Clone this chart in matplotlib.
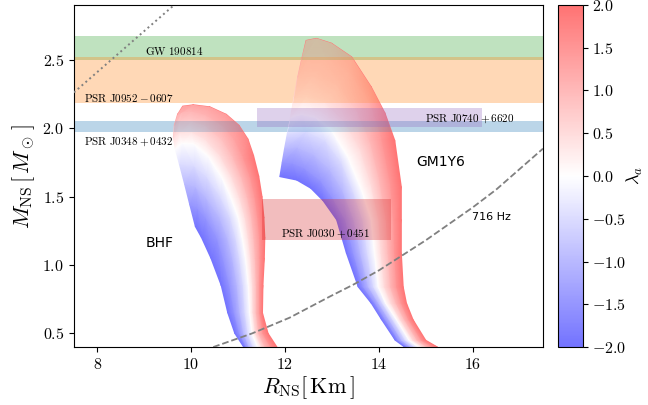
import numpy as np
import matplotlib
matplotlib.use("Agg")
import matplotlib.pyplot as plt
import matplotlib.tri as mtri
from matplotlib.colors import ListedColormap, Normalize
from matplotlib.cm import ScalarMappable
from matplotlib.patches import Polygon

plt.rcParams["font.family"] = "serif"
plt.rcParams["font.serif"] = ["cmr10"]
plt.rcParams["mathtext.fontset"] = "cm"
plt.rcParams["axes.formatter.use_mathtext"] = True

# lambda_a values of the drawn curves
lambdas = [-2.0, -1.5, -1.0, -0.5, 0.0, 0.5, 1.0, 1.5, 2.0]

# BHF mass-radius curves (R in km, M in Msun)
bhf_R = [
    [11.12, 10.93, 10.78, 10.64, 10.42, 10.22, 10.09],
    [11.18, 11.03, 10.92, 10.82, 10.68, 10.55, 10.30, 10.12, 9.97],
    [11.24, 11.12, 11.04, 10.98, 10.88, 10.77, 10.60, 10.30, 10.08, 9.86],
    [11.32, 11.21, 11.15, 11.11, 11.03, 10.95, 10.83, 10.62, 10.32, 10.05, 9.75],
    [11.42, 11.30, 11.25, 11.22, 11.16, 11.09, 11.00, 10.84, 10.64, 10.35, 10.05, 9.80, 9.66],
    [11.50, 11.37, 11.32, 11.31, 11.27, 11.22, 11.15, 11.03, 10.86, 10.62, 10.30, 10.00, 9.75, 9.62],
    [11.58, 11.44, 11.39, 11.39, 11.37, 11.34, 11.29, 11.20, 11.07, 10.88, 10.65, 10.30, 10.00, 9.75, 9.64],
    [11.70, 11.53, 11.46, 11.46, 11.47, 11.46, 11.42, 11.36, 11.26, 11.10, 10.92, 10.68, 10.30, 10.00, 9.80, 9.71],
    [11.83, 11.64, 11.52, 11.53, 11.56, 11.57, 11.55, 11.51, 11.44, 11.33, 11.21, 11.02, 10.75, 10.40, 10.05, 9.82],
]
bhf_M = [
    [0.40, 0.50, 0.65, 0.85, 1.05, 1.20, 1.28],
    [0.40, 0.50, 0.65, 0.85, 1.05, 1.20, 1.35, 1.42, 1.44],
    [0.40, 0.50, 0.65, 0.85, 1.05, 1.20, 1.35, 1.50, 1.575, 1.59],
    [0.40, 0.50, 0.65, 0.85, 1.05, 1.20, 1.35, 1.50, 1.65, 1.725, 1.735],
    [0.40, 0.50, 0.65, 0.85, 1.05, 1.20, 1.35, 1.50, 1.65, 1.80, 1.885, 1.89, 1.85],
    [0.40, 0.50, 0.65, 0.85, 1.05, 1.20, 1.35, 1.50, 1.65, 1.80, 1.92, 1.975, 1.97, 1.93],
    [0.40, 0.50, 0.65, 0.85, 1.05, 1.20, 1.35, 1.50, 1.65, 1.80, 1.92, 2.02, 2.055, 2.05, 2.02],
    [0.40, 0.50, 0.65, 0.85, 1.05, 1.20, 1.35, 1.50, 1.65, 1.80, 1.92, 2.02, 2.10, 2.125, 2.12, 2.10],
    [0.40, 0.50, 0.65, 0.85, 1.05, 1.20, 1.35, 1.50, 1.65, 1.80, 1.92, 2.02, 2.10, 2.155, 2.17, 2.16],
]

# GM1Y6 mass-radius curves
gm1_R = [
    [14.55, 14.35, 14.06, 13.84, 13.56, 13.31, 13.10, 12.81, 12.55, 12.25, 11.89],
    [14.62, 14.42, 14.14, 13.92, 13.67, 13.46, 13.29, 13.00, 12.75, 12.40, 12.15, 11.94],
    [14.69, 14.49, 14.22, 14.00, 13.78, 13.61, 13.47, 13.22, 12.95, 12.60, 12.25, 11.99],
    [14.77, 14.57, 14.30, 14.08, 13.89, 13.76, 13.66, 13.44, 13.20, 12.85, 12.45, 12.05],
    [14.85, 14.65, 14.38, 14.15, 13.99, 13.91, 13.84, 13.63, 13.34, 12.99, 12.64, 12.35, 12.12],
    [14.94, 14.73, 14.46, 14.26, 14.12, 14.05, 14.00, 13.83, 13.60, 13.25, 12.85, 12.45, 12.19],
    [15.03, 14.82, 14.55, 14.37, 14.25, 14.20, 14.16, 14.00, 13.82, 13.52, 13.10, 12.60, 12.27],
    [15.14, 14.91, 14.64, 14.48, 14.38, 14.34, 14.32, 14.25, 14.05, 13.80, 13.35, 12.85, 12.50, 12.36],
    [15.25, 15.00, 14.73, 14.59, 14.52, 14.48, 14.48, 14.48, 14.34, 14.13, 13.84, 13.42, 12.99, 12.67, 12.45],
]
gm1_M = [
    [0.40, 0.45, 0.60, 0.72, 0.84, 1.085, 1.33, 1.47, 1.56, 1.62, 1.645],
    [0.40, 0.45, 0.60, 0.72, 0.84, 1.085, 1.33, 1.50, 1.62, 1.71, 1.745, 1.75],
    [0.40, 0.45, 0.60, 0.72, 0.84, 1.085, 1.33, 1.55, 1.70, 1.81, 1.86, 1.85],
    [0.40, 0.45, 0.60, 0.72, 0.84, 1.085, 1.33, 1.55, 1.75, 1.91, 1.98, 1.96],
    [0.40, 0.45, 0.60, 0.72, 0.84, 1.085, 1.33, 1.55, 1.79, 1.985, 2.08, 2.10, 2.08],
    [0.40, 0.45, 0.60, 0.72, 0.84, 1.085, 1.33, 1.60, 1.85, 2.06, 2.19, 2.235, 2.22],
    [0.40, 0.45, 0.60, 0.72, 0.84, 1.085, 1.33, 1.65, 1.90, 2.14, 2.32, 2.385, 2.37],
    [0.40, 0.45, 0.60, 0.72, 0.84, 1.085, 1.33, 1.60, 1.95, 2.20, 2.42, 2.52, 2.525, 2.51],
    [0.40, 0.45, 0.60, 0.72, 0.84, 1.085, 1.33, 1.57, 1.91, 2.11, 2.30, 2.52, 2.62, 2.655, 2.64],
]

# 716 Hz mass-shedding line and Buchdahl line
spin_R = [10.47, 11.3, 12.1, 12.96, 13.45, 14.0, 14.5, 15.0, 15.5, 16.0, 16.5, 17.0, 17.5]
spin_M = [0.40, 0.50, 0.615, 0.77, 0.855, 0.96, 1.07, 1.18, 1.30, 1.42, 1.55, 1.70, 1.85]
buch_R = [7.5, 9.64]
buch_M = [2.26, 2.90]

# observational constraints
gw_M = [2.50, 2.67]
j0952_M = [2.18, 2.52]
j0348_M = [1.97, 2.05]
j0740_R = [11.41, 16.2]
j0740_M = [2.01, 2.15]
j0030_R = [11.52, 14.26]
j0030_M = [1.18, 1.48]

# pale bwr colormap (as if drawn with alpha on white)
base = plt.get_cmap("bwr")(np.linspace(0, 1, 256))
base[:, :3] = 1 - 0.55 * (1 - base[:, :3])
pale = ListedColormap(base)
norm = Normalize(-2, 2)


def arc_param(r, m):
    d = np.hypot(np.diff(r), 2.9 * np.diff(m))
    s = np.concatenate([[0], np.cumsum(d)])
    return s / s[-1]


def draw_family(ax, R_list, M_list, fade_from, fade_max):
    xs, ys, zs, offs = [], [], [], []
    for lam, r, m in zip(lambdas, R_list, M_list):
        offs.append(len(xs))
        xs += r
        ys += m
        zs += [lam] * len(r)
    tris = []
    for k in range(len(lambdas) - 1):
        oa, ob = offs[k], offs[k + 1]
        ta = arc_param(R_list[k], M_list[k])
        tb = arc_param(R_list[k + 1], M_list[k + 1])
        na, nb = len(ta), len(tb)
        i = j = 0
        while i < na - 1 or j < nb - 1:
            if j == nb - 1 or (i < na - 1 and ta[i + 1] <= tb[j + 1]):
                tris.append([oa + i, oa + i + 1, ob + j])
                i += 1
            else:
                tris.append([oa + i, ob + j + 1, ob + j])
                j += 1
    tri = mtri.Triangulation(xs, ys, tris)
    ax.tripcolor(tri, zs, shading="gouraud", cmap=pale, norm=norm, zorder=2)

    outline = list(zip(R_list[0], M_list[0]))
    outline += [(r[-1], m[-1]) for r, m in zip(R_list[1:-1], M_list[1:-1])]
    outline += list(zip(R_list[-1][::-1], M_list[-1][::-1]))
    clip = Polygon(outline, closed=True, transform=ax.transData)

    # curves spread apart near the top, so the fill looks paler there
    top = max(ys)
    mgrid = np.linspace(top, fade_from, 100)
    fade = np.ones((100, 2, 4))
    fade[:, :, 3] = (fade_max * (mgrid - fade_from) / (top - fade_from))[:, None]
    im = ax.imshow(fade, extent=(min(xs), max(xs), fade_from, top),
                   aspect="auto", interpolation="bilinear", zorder=2.2)
    im.set_clip_path(clip)

    # bands show through the curves
    for lo_hi, col in [(gw_M, "tab:green"), (j0952_M, "tab:orange"), (j0348_M, "tab:blue")]:
        span = ax.axhspan(*lo_hi, color=col, alpha=0.22, lw=0, zorder=2.5)
        span.set_clip_path(clip)


fig = plt.figure(figsize=(6.48, 4.05), dpi=100)
ax = fig.add_axes([0.114, 0.143, 0.724, 0.845])
cax = fig.add_axes([0.861, 0.143, 0.038, 0.845])

ax.axhspan(*gw_M, color="tab:green", alpha=0.3, lw=0, zorder=1)
ax.axhspan(*j0952_M, color="tab:orange", alpha=0.3, lw=0, zorder=1)
ax.axhspan(*j0348_M, color="tab:blue", alpha=0.3, lw=0, zorder=1)

draw_family(ax, bhf_R, bhf_M, 1.75, 0.35)
draw_family(ax, gm1_R, gm1_M, 1.9, 0.6)

ax.fill_between(j0740_R, j0740_M[0], j0740_M[1], color="tab:purple", alpha=0.3, lw=0, zorder=3)
ax.fill_between(j0030_R, j0030_M[0], j0030_M[1], color="tab:red", alpha=0.3, lw=0, zorder=3)

ax.plot(spin_R, spin_M, "--", color="gray", lw=1.3, zorder=4)
ax.plot(buch_R, buch_M, ":", color="gray", lw=1.4, zorder=4)

ax.text(9.02, 2.565, r"$\mathrm{GW\ 190814}$", fontsize=8, va="center", zorder=5)
ax.text(7.71, 2.22, r"$\mathrm{PSR\ J0952}-0607$", fontsize=8, va="center", zorder=5)
ax.text(7.71, 1.90, r"$\mathrm{PSR\ J0348}+0432$", fontsize=8, va="center", zorder=5)
ax.text(14.98, 2.07, r"$\mathrm{PSR\ J0740}+6620$", fontsize=8, va="center", zorder=5)
ax.text(11.91, 1.225, r"$\mathrm{PSR\ J0030}+0451$", fontsize=8, va="center", zorder=5)
ax.text(9.02, 1.16, "BHF", fontsize=10, va="center", family="DejaVu Sans")
ax.text(14.8, 1.75, "GM1Y6", fontsize=10, va="center", family="DejaVu Sans")
ax.text(15.99, 1.35, "716 Hz", fontsize=8, va="center", family="DejaVu Sans")

ax.set_xlim(7.5, 17.5)
ax.set_ylim(0.4, 2.9)
ax.set_xlabel(r"$R_{\rm NS}[\,{\rm Km}\,]$", fontsize=16, labelpad=2)
ax.set_ylabel(r"$M_{\rm NS}\,[\,M_\odot\,]$", fontsize=16, labelpad=4)
ax.tick_params(labelsize=11.5)

cbar = fig.colorbar(ScalarMappable(norm=norm, cmap=pale), cax=cax)
cbar.set_ticks(np.arange(-2, 2.01, 0.5))
cbar.ax.tick_params(labelsize=11.5)
cbar.set_label(r"$\lambda_a$", fontsize=13, labelpad=-1)

fig.savefig("out.png", dpi=100)
